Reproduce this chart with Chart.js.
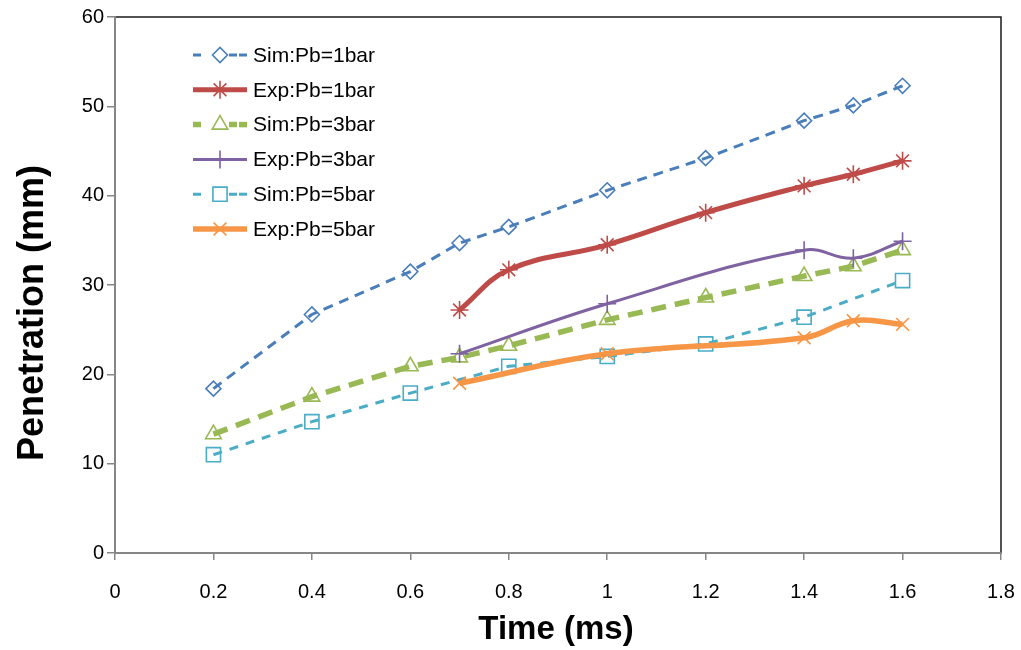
<!DOCTYPE html>
<html>
<head>
<meta charset="utf-8">
<script src="https://cdn.jsdelivr.net/npm/chart.js@4/dist/chart.umd.min.js"></script>
<style>
  html, body { margin: 0; padding: 0; background: #fff; }
  #wrap { width: 1021px; height: 650px; position: relative; }
</style>
</head>
<body>
<div id="wrap"><canvas id="c" width="1021" height="650"></canvas></div>
<script>
// Spray penetration vs. time for three back pressures, simulation and experiment
const seriesNames = ['Sim:Pb=1bar', 'Exp:Pb=1bar', 'Sim:Pb=3bar', 'Exp:Pb=3bar', 'Sim:Pb=5bar', 'Exp:Pb=5bar'];

const simTime = [0.2, 0.4, 0.6, 0.7, 0.8, 1.0, 1.2, 1.4, 1.5, 1.6];
const sim1bar = [18.4, 26.7, 31.5, 34.7, 36.5, 40.6, 44.2, 48.4, 50.1, 52.3];
const sim3bar = [13.3, 17.5, 20.9, 21.9, 23.2, 26.1, 28.6, 31.0, 32.1, 33.9];

const sim5Time = [0.2, 0.4, 0.6, 0.8, 1.0, 1.2, 1.4, 1.6];
const sim5bar  = [11.0, 14.7, 17.9, 20.9, 22.0, 23.4, 26.4, 30.5];

const exp1Time = [0.7, 0.8, 1.0, 1.2, 1.4, 1.5, 1.6];
const exp1bar  = [27.2, 31.7, 34.5, 38.1, 41.1, 42.4, 43.9];

const expTime = [0.7, 1.0, 1.4, 1.5, 1.6];
const exp3bar = [22.3, 27.9, 33.9, 33.0, 34.9];
const exp5bar = [19.0, 22.3, 24.1, 26.0, 25.6];

const xTicks = [0, 0.2, 0.4, 0.6, 0.8, 1, 1.2, 1.4, 1.6, 1.8];
const yTicks = [0, 10, 20, 30, 40, 50, 60];

const xTitle = 'Time (ms)';
const yTitle = 'Penetration (mm)';

function pairs(xs, ys) { return xs.map((x, i) => ({ x: x, y: ys[i] })); }

const clear = 'rgba(0,0,0,0)';
const styles = [
  { color: '#4A7EBB', width: 3,   dash: [10, 7],  point: 'rectRot',  r: 7.5, tension: 0 },
  { color: '#BE4B48', width: 5,   dash: [],       point: 'star',     r: 9,   tension: 0.4 },
  { color: '#98B954', width: 5.5, dash: [15, 9],  point: 'triangle', r: 9,   tension: 0 },
  { color: '#7E62A1', width: 3,   dash: [],       point: 'cross',    r: 9,   tension: 0.4 },
  { color: '#4BACC6', width: 3,   dash: [9, 8],   point: 'rect',     r: 10,  tension: 0 },
  { color: '#F79646', width: 5.5, dash: [],       point: 'crossRot', r: 9,   tension: 0.4 }
];
const seriesData = [
  pairs(simTime, sim1bar), pairs(exp1Time, exp1bar), pairs(simTime, sim3bar),
  pairs(expTime, exp3bar), pairs(sim5Time, sim5bar), pairs(expTime, exp5bar)
];

const datasets = seriesNames.map((name, i) => {
  const s = styles[i];
  return {
    label: name,
    data: seriesData[i],
    showLine: true,
    borderColor: s.color,
    borderWidth: s.width,
    borderDash: s.dash,
    tension: s.tension,
    pointStyle: s.point,
    pointRadius: s.r,
    pointHoverRadius: s.r,
    pointBorderColor: s.color,
    pointBackgroundColor: clear,
    pointBorderWidth: 1.6,
    order: seriesNames.length - i
  };
});

// Plot-area frame drawn before the axes, so the grey axes sit on top
const frame = {
  id: 'frame',
  beforeDraw(chart) {
    const { ctx, chartArea: a } = chart;
    ctx.save();
    ctx.strokeStyle = '#1a1a1a';
    ctx.lineWidth = 1.5;
    ctx.strokeRect(a.left, a.top, a.right - a.left, a.bottom - a.top);
    ctx.restore();
  }
};

// Axis titles
const titles = {
  id: 'titles',
  afterDraw(chart) {
    const { ctx, chartArea: a } = chart;
    ctx.save();
    ctx.fillStyle = '#000';
    ctx.textAlign = 'center';
    ctx.textBaseline = 'middle';
    ctx.font = 'bold 33px "Liberation Sans", Arial, sans-serif';
    ctx.fillText(xTitle, (a.left + a.right) / 2 - 2, 630);
    ctx.font = 'bold 36px "Liberation Sans", Arial, sans-serif';
    ctx.translate(33, 313);
    ctx.rotate(-Math.PI / 2);
    ctx.fillText(yTitle, 0, 0);
    ctx.restore();
  }
};

// Legend: line sample with its marker in the middle, then the series name
const legendBox = {
  id: 'legendBox',
  afterDraw(chart) {
    const { ctx } = chart;
    const x0 = 193, x1 = 247, xm = 220, tx = 253, y0 = 55, dy = 34.8;
    ctx.save();
    chart.data.datasets.forEach((d, i) => {
      const y = y0 + i * dy;
      const s = styles[i];
      ctx.strokeStyle = s.color;
      ctx.lineWidth = s.width;
      ctx.lineCap = 'butt';
      if (s.dash.length) {
        ctx.setLineDash([8, 28]);
        ctx.beginPath(); ctx.moveTo(x0, y); ctx.lineTo(x1, y); ctx.stroke();
        ctx.setLineDash([]);
        ctx.beginPath(); ctx.moveTo(x1 - 8, y); ctx.lineTo(x1, y); ctx.stroke();
      } else {
        ctx.setLineDash([]);
        ctx.beginPath(); ctx.moveTo(x0, y); ctx.lineTo(x1, y); ctx.stroke();
      }
      ctx.setLineDash([]);
      ctx.fillStyle = clear;
      ctx.strokeStyle = s.color;
      ctx.lineWidth = 1.6;
      Chart.helpers.drawPoint(ctx, { pointStyle: s.point, radius: s.r, rotation: 0, borderWidth: 1.6 }, xm, y);
      ctx.fillStyle = '#000';
      ctx.font = '21px "Liberation Sans", Arial, sans-serif';
      ctx.textAlign = 'left';
      ctx.textBaseline = 'middle';
      ctx.fillText(d.label, tx, y + 1);
    });
    ctx.restore();
  }
};

const tickFont = { family: '"Liberation Sans", Arial, sans-serif', size: 20 };

new Chart(document.getElementById('c'), {
  type: 'scatter',
  data: { datasets: datasets },
  options: {
    responsive: false,
    animation: false,
    devicePixelRatio: 1,
    layout: { padding: { left: 0, top: 17, right: 20, bottom: 0 } },
    plugins: {
      legend: { display: false },
      tooltip: { enabled: false }
    },
    scales: {
      x: {
        type: 'linear',
        min: xTicks[0],
        max: xTicks[xTicks.length - 1],
        afterBuildTicks: (scale) => { scale.ticks = xTicks.map(v => ({ value: v })); },
        afterFit: (scale) => { scale.height = 97; scale.paddingLeft = 0; scale.paddingRight = 0; },
        ticks: {
          font: tickFont, color: '#000', padding: 20, maxRotation: 0, autoSkip: false,
          callback: (v) => String(+(+v).toFixed(1))
        },
        grid: { drawOnChartArea: false, drawTicks: true, tickLength: 7, color: '#868686', lineWidth: 1.5 },
        border: { color: '#868686', width: 2 }
      },
      y: {
        type: 'linear',
        min: yTicks[0],
        max: yTicks[yTicks.length - 1],
        afterBuildTicks: (scale) => { scale.ticks = yTicks.map(v => ({ value: v })); },
        afterFit: (scale) => { scale.width = 115; scale.paddingTop = 0; scale.paddingBottom = 0; },
        ticks: { font: tickFont, color: '#000', padding: 3, autoSkip: false },
        grid: { drawOnChartArea: false, drawTicks: true, tickLength: 8, color: '#868686', lineWidth: 1.5 },
        border: { color: '#868686', width: 2 }
      }
    }
  },
  plugins: [frame, titles, legendBox]
});
</script>
</body>
</html>
